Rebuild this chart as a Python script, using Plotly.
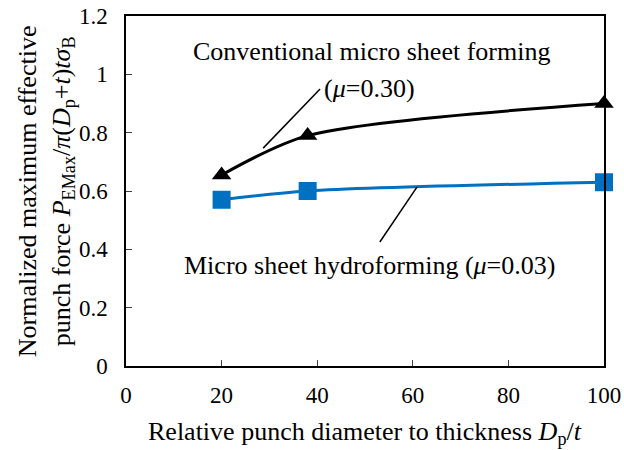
import plotly.graph_objects as go

x_vals = [20, 38, 100]
conv_vals = [0.655, 0.79, 0.90]
hydro_vals = [0.57, 0.60, 0.63]
y_ticks = [0, 0.2, 0.4, 0.6, 0.8, 1.0, 1.2]
y_tick_labels = ["0", "0.2", "0.4", "0.6", "0.8", "1", "1.2"]
x_ticks = [0, 20, 40, 60, 80, 100]

FONT = "Liberation Serif, Times New Roman, serif"
TXT = 26
TICK = 23

fig = go.Figure()
fig.add_trace(go.Scatter(
    x=x_vals, y=conv_vals, mode="lines+markers",
    line=dict(color="black", width=3, shape="spline", smoothing=0.8),
    marker=dict(symbol="triangle-up", size=17, color="black"),
    showlegend=False, cliponaxis=False))
fig.add_trace(go.Scatter(
    x=x_vals, y=hydro_vals, mode="lines+markers",
    line=dict(color="#0070C0", width=3, shape="spline", smoothing=0.8),
    marker=dict(symbol="square", size=18, color="#0070C0"),
    showlegend=False, cliponaxis=False))

# annotation texts
fig.add_annotation(x=51.4, y=1.077, xref="x", yref="y", text="Conventional micro sheet forming",
                   showarrow=False, font=dict(family=FONT, size=TXT, color="black"))
fig.add_annotation(x=51.0, y=0.953, xref="x", yref="y", text="(<i>μ</i>=0.30)",
                   showarrow=False, font=dict(family=FONT, size=TXT, color="black"))
fig.add_annotation(x=51.0, y=0.346, xref="x", yref="y", text="Micro sheet hydroforming (<i>μ</i>=0.03)",
                   showarrow=False, font=dict(family=FONT, size=TXT, color="black"))

# axis titles
fig.add_annotation(x=-0.167, y=0.5, xref="paper", yref="paper", textangle=-90,
                   text="Normalized maximum effective<br>punch force <i>P</i><sub>EMax</sub>/<i>π</i>(<i>D</i><sub>p</sub>+<i>t</i>)<i>tσ</i><sub>B</sub>",
                   showarrow=False, xanchor="center", yanchor="middle",
                   font=dict(family=FONT, size=TXT, color="black"))
fig.add_annotation(x=0.5, y=-0.19, xref="paper", yref="paper",
                   text="Relative punch diameter to thickness <i>D</i><sub>p</sub>/<i>t</i>",
                   showarrow=False, xanchor="center", yanchor="middle",
                   font=dict(family=FONT, size=TXT, color="black"))

# leader lines
fig.add_shape(type="line", x0=40.6, y0=0.95, x1=28.7, y1=0.747, xref="x", yref="y",
              line=dict(color="black", width=1.5))
fig.add_shape(type="line", x0=60.9, y0=0.614, x1=53.1, y1=0.425, xref="x", yref="y",
              line=dict(color="black", width=1.5))

fig.update_layout(
    width=624, height=450,
    margin=dict(l=126, r=20, t=16, b=84),
    paper_bgcolor="white", plot_bgcolor="white",
    font=dict(family=FONT, size=TICK, color="black"),
    xaxis=dict(range=[0, 100], tickvals=x_ticks, ticks="inside", ticklen=6,
               showline=True, linecolor="black", linewidth=1.5, mirror=True,
               showgrid=False, zeroline=False, automargin=False, ticklabelstandoff=8,
               ticklabeloverflow="allow",
               tickfont=dict(family=FONT, size=TICK, color="black")),
    yaxis=dict(range=[0, 1.2], tickvals=y_ticks, ticktext=y_tick_labels, ticks="inside", ticklen=6,
               showline=True, linecolor="black", linewidth=1.5, mirror=True,
               showgrid=False, zeroline=False, automargin=False, ticklabelstandoff=12,
               ticklabeloverflow="allow",
               tickfont=dict(family=FONT, size=TICK, color="black")),
)

# remove the default page margin so the 624x450 figure fills the window exactly
fig.write_html("out.html", config={"displayModeBar": False},
               post_script="document.body.style.margin='0';document.body.style.overflow='hidden';")
